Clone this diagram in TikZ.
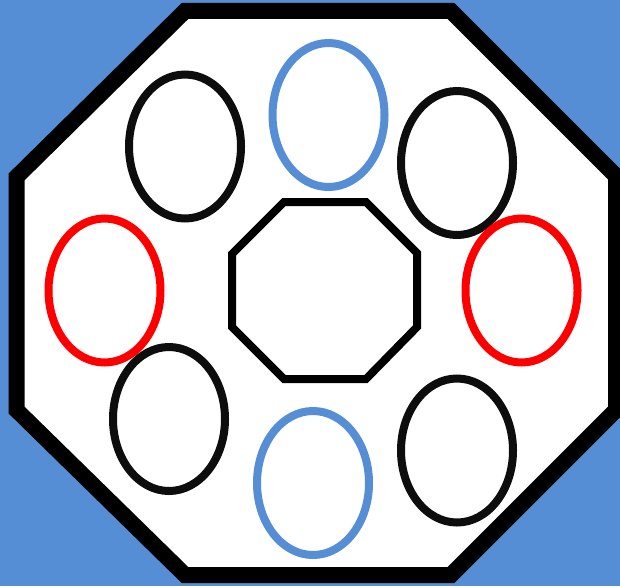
\documentclass[tikz,border=0pt]{standalone}
\usetikzlibrary{shapes.geometric}
\definecolor{bg}{HTML}{558ED5}
\definecolor{ink}{HTML}{0D0D0D}
\definecolor{hot}{HTML}{FF0000}
\tikzset{
  ring/.style={ellipse, draw=ink, line width=8pt, minimum width=112pt, minimum height=144pt, inner sep=0pt},
  hotring/.style={ring, draw=hot},
  coolring/.style={ring, draw=bg},
  shell/.style={draw=black, fill=white, line width=16pt, line join=miter},
  core/.style={draw=black, fill=white, line width=8pt, line join=miter},
}

\begin{document}
\begin{tikzpicture}[x=1pt,y=-1pt]

% ───────────── background ─────────────
\useasboundingbox (0,0) rectangle (620,586);
\clip (0,0) rectangle (620,586);
\fill[bg] (0,0) rectangle (620,586);

% ───────────── outer and inner octagon ─────────────
\draw[shell] (185,11) -- (451,11) -- (616,176) -- (616,410) -- (451,575)
  -- (185,575) -- (16.5,410) -- (16.5,177) -- cycle;
\draw[core] (284,202) -- (366,202) -- (417,253) -- (417,327) -- (366,379)
  -- (284,379) -- (232,327) -- (232,254) -- cycle;

% ───────────── rings ─────────────
\node[ring] (nw) at (185,146.5) {};
\node[coolring] (n) at (328.5,115) {};
\node[ring] (ne) at (457,163) {};
\node[hotring] (w) at (104.5,290.5) {};
\node[hotring] (e) at (521.5,290.5) {};
\node[ring] (sw) at (169,419) {};
\node[coolring] (s) at (313,483) {};
\node[ring] (se) at (457,450.5) {};

\end{tikzpicture}
\end{document}
